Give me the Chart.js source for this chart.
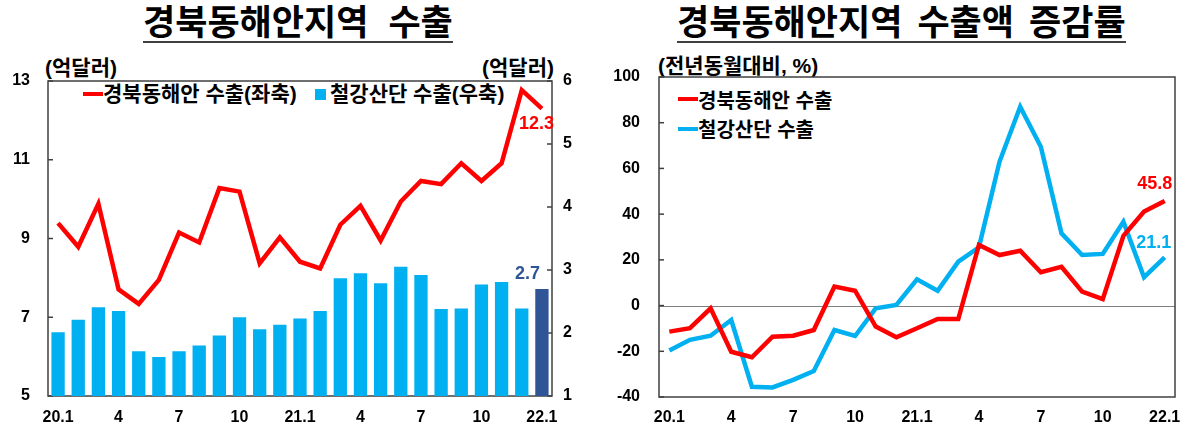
<!DOCTYPE html>
<html lang="ko">
<head>
    <meta charset="UTF-8">
    <title>경북동해안지역 수출</title>
    <script src="https://cdn.jsdelivr.net/npm/chart.js"></script>
    <style>
        body {
            margin: 0;
            width: 1189px;
            height: 425px;
            background: #fff;
            position: relative;
            overflow: hidden;
            font-family: "Liberation Sans", "Noto Sans CJK KR", sans-serif;
            font-weight: bold;
            color: #000;
        }
        .abs { position: absolute; white-space: pre; line-height: 1; }
        .title {
            font-family: "Noto Sans CJK KR", sans-serif;
            font-size: 35px;
            border-bottom: 2px solid #404040;
            padding-bottom: 4px;
        }
        .unit { font-size: 21px; }
        .legend { font-size: 21px; }
        .legend.small { font-size: 20px; }
        .gap { display: inline-block; width: 20px; }
        .gap.narrow { width: 15px; }
        .mk-line { position: absolute; width: 20px; height: 4px; }
        .mk-box { position: absolute; width: 11px; height: 11px; background: #00b0f0; }
        #leftWrap { position: absolute; left: 0; top: 70px; width: 600px; height: 355px; }
        #rightWrap { position: absolute; left: 600px; top: 66px; width: 589px; height: 359px; }
    </style>
</head>
<body>
    <div class="abs title" style="left:143px; top:2px;">경북동해안지역<span class="gap"></span>수출</div>
    <div class="abs title" style="left:677px; top:2px;">경북동해안지역<span class="gap narrow"></span>수출액<span class="gap narrow"></span>증감률</div>

    <div class="abs unit" style="left:45px; top:57px;">(억달러)</div>
    <div class="abs unit" style="left:482px; top:57px;">(억달러)</div>
    <div class="abs unit" style="left:658px; top:55px;">(전년동월대비, %)</div>

    <div class="mk-line" style="left:83px; top:92px; background:#ff0000;"></div>
    <div class="abs legend" style="left:103px; top:83px;">경북동해안 수출(좌축)</div>
    <div class="mk-box" style="left:315px; top:89px;"></div>
    <div class="abs legend" style="left:330px; top:83px;">철강산단 수출(우축)</div>

    <div class="mk-line" style="left:678px; top:97px; background:#ff0000;"></div>
    <div class="abs legend small" style="left:698px; top:91px;">경북동해안 수출</div>
    <div class="mk-line" style="left:678px; top:127px; background:#00b0f0;"></div>
    <div class="abs legend small" style="left:698px; top:120px;">철강산단 수출</div>

    <div id="leftWrap"><canvas id="exportChart"></canvas></div>
    <div id="rightWrap"><canvas id="growthChart"></canvas></div>

    <script>
        const months = ['20.1','2','3','4','5','6','7','8','9','10','11','12',
                        '21.1','2','3','4','5','6','7','8','9','10','11','12','22.1'];

        // 경북동해안 수출 (억달러, 좌축)
        const coastExport = [9.39, 8.79, 9.88, 7.71, 7.34, 7.95, 9.15, 8.9, 10.28, 10.19, 8.37, 9.03,
                             8.41, 8.24, 9.35, 9.83, 8.95, 9.94, 10.46, 10.38, 10.91, 10.46, 10.91, 12.77, 12.3];
        // 철강산단 수출 (억달러, 우축)
        const steelExport = [2.01, 2.21, 2.41, 2.35, 1.71, 1.62, 1.71, 1.8, 1.96, 2.25, 2.06, 2.13,
                             2.23, 2.35, 2.87, 2.95, 2.79, 3.05, 2.92, 2.38, 2.39, 2.77, 2.81, 2.39, 2.7];

        // 전년동월대비 증감률 (%)
        const coastGrowth = [-11.4, -9.9, -1.2, -20.2, -22.6, -13.6, -13.2, -10.7, 8.3, 6.5, -9.2, -13.9,
                             -9.9, -5.9, -5.9, 26.5, 22.1, 24.0, 14.6, 17.0, 6.1, 2.8, 30.5, 41.1, 45.8];
        const steelGrowth = [-19.7, -15.0, -13.2, -6.3, -35.5, -35.8, -32.5, -28.6, -10.7, -13.3, -1.2, 0.3,
                             11.5, 6.5, 19.2, 25.5, 63.0, 87.0, 69.5, 31.6, 22.1, 22.6, 36.7, 12.4, 21.1];

        const RED = '#ff0000';
        const SKY = '#00b0f0';
        const NAVY = '#2f5597';
        const FONT = '"Liberation Sans", "Noto Sans CJK KR", sans-serif';

        Chart.defaults.font.family = FONT;
        Chart.defaults.font.weight = 'bold';
        Chart.defaults.color = '#000';

        // box around the plot, inward tick marks, zero line
        const framePlugin = {
            id: 'frame',
            beforeDatasetsDraw(chart, args, opts) {
                const { ctx, chartArea: a } = chart;
                ctx.save();
                if (opts.zeroLine) {
                    const y0 = chart.scales.y.getPixelForValue(0);
                    ctx.strokeStyle = '#808080';
                    ctx.lineWidth = 1;
                    ctx.beginPath();
                    ctx.moveTo(a.left, Math.round(y0) + 0.5);
                    ctx.lineTo(a.right, Math.round(y0) + 0.5);
                    ctx.stroke();
                }
                ctx.strokeStyle = '#404040';
                ctx.lineWidth = 1.5;
                ctx.strokeRect(a.left, a.top, a.right - a.left, a.bottom - a.top);
                Object.values(chart.scales).forEach(s => {
                    if (s.axis !== 'y') return;
                    s.ticks.forEach(t => {
                        const y = s.getPixelForValue(t.value);
                        ctx.beginPath();
                        if (s.position === 'left') {
                            ctx.moveTo(a.left, y); ctx.lineTo(a.left + 5, y);
                        } else {
                            ctx.moveTo(a.right, y); ctx.lineTo(a.right - 5, y);
                        }
                        ctx.stroke();
                    });
                });
                ctx.restore();
            }
        };

        // value label at the last point of chosen datasets
        const endLabelPlugin = {
            id: 'endLabel',
            afterDatasetsDraw(chart, args, opts) {
                const { ctx } = chart;
                (opts.items || []).forEach(it => {
                    const meta = chart.getDatasetMeta(it.ds);
                    const el = meta.data[meta.data.length - 1];
                    const data = chart.data.datasets[it.ds].data;
                    const txt = data[data.length - 1].toFixed(1);
                    ctx.save();
                    ctx.font = 'bold 18px ' + FONT;
                    ctx.fillStyle = it.color;
                    ctx.textAlign = it.align;
                    ctx.textBaseline = 'middle';
                    ctx.fillText(txt, el.x + it.dx, el.y + it.dy);
                    ctx.restore();
                });
            }
        };

        const tickEvery3 = function (v, i) {
            return i % 3 === 0 ? this.getLabelForValue(v) : '';
        };

        // hidden grid, but tickLength still sets the label gap (ticks.padding would also pad the top)
        const yGrid = len => ({ display: false, drawTicks: true, tickLength: len });

        new Chart(document.getElementById('exportChart'), {
            type: 'bar',
            data: {
                labels: months,
                datasets: [
                    {
                        type: 'line',
                        label: '경북동해안 수출(좌축)',
                        data: coastExport,
                        yAxisID: 'y',
                        borderColor: RED,
                        borderWidth: 4.5,
                        pointRadius: 0,
                        tension: 0
                    },
                    {
                        label: '철강산단 수출(우축)',
                        data: steelExport,
                        yAxisID: 'y1',
                        backgroundColor: steelExport.map((v, i) => i === steelExport.length - 1 ? NAVY : SKY),
                        barPercentage: 0.66,
                        categoryPercentage: 1
                    }
                ]
            },
            options: {
                responsive: true,
                maintainAspectRatio: false,
                animation: false,
                layout: { padding: { top: 11, left: 0, right: 0, bottom: 0 } },
                plugins: {
                    legend: { display: false },
                    tooltip: { enabled: false },
                    frame: {},
                    endLabel: {
                        items: [
                            { ds: 0, color: RED, dx: 12, dy: 15, align: 'right' },
                            { ds: 1, color: NAVY, dx: -2, dy: -15, align: 'right' }
                        ]
                    }
                },
                scales: {
                    x: {
                        grid: { display: false },
                        border: { display: false },
                        ticks: { autoSkip: false, maxRotation: 0, padding: 4, font: { size: 16 }, callback: tickEvery3 },
                        afterFit: s => { s.height = 29; }
                    },
                    y: {
                        position: 'left',
                        min: 5, max: 13,
                        grid: yGrid(18),
                        border: { display: false },
                        ticks: { stepSize: 2, padding: 0, font: { size: 16 } },
                        afterFit: s => { s.width = 48; }
                    },
                    y1: {
                        position: 'right',
                        min: 1, max: 6,
                        grid: yGrid(11),
                        border: { display: false },
                        ticks: { stepSize: 1, padding: 0, font: { size: 16 } },
                        afterFit: s => { s.width = 48; }
                    }
                }
            },
            plugins: [framePlugin, endLabelPlugin]
        });

        new Chart(document.getElementById('growthChart'), {
            type: 'line',
            data: {
                labels: months,
                datasets: [
                    {
                        label: '경북동해안 수출',
                        data: coastGrowth,
                        borderColor: RED,
                        borderWidth: 4.5,
                        pointRadius: 0,
                        tension: 0
                    },
                    {
                        label: '철강산단 수출',
                        data: steelGrowth,
                        borderColor: SKY,
                        borderWidth: 4.5,
                        pointRadius: 0,
                        tension: 0
                    }
                ]
            },
            options: {
                responsive: true,
                maintainAspectRatio: false,
                animation: false,
                layout: { padding: { top: 11, left: 0, right: 14, bottom: 0 } },
                plugins: {
                    legend: { display: false },
                    tooltip: { enabled: false },
                    frame: { zeroLine: true },
                    endLabel: {
                        items: [
                            { ds: 0, color: RED, dx: -10, dy: -17, align: 'center' },
                            { ds: 1, color: SKY, dx: -11, dy: -14, align: 'center' }
                        ]
                    }
                },
                scales: {
                    x: {
                        offset: true,
                        grid: { display: false },
                        border: { display: false },
                        ticks: { autoSkip: false, maxRotation: 0, padding: 3, font: { size: 16 }, callback: tickEvery3 },
                        afterFit: s => { s.height = 28; }
                    },
                    y: {
                        min: -40, max: 100,
                        grid: yGrid(19),
                        border: { display: false },
                        ticks: { stepSize: 20, padding: 0, font: { size: 16 } },
                        afterFit: s => { s.width = 59; }
                    }
                }
            },
            plugins: [framePlugin, endLabelPlugin]
        });
    </script>
</body>
</html>
